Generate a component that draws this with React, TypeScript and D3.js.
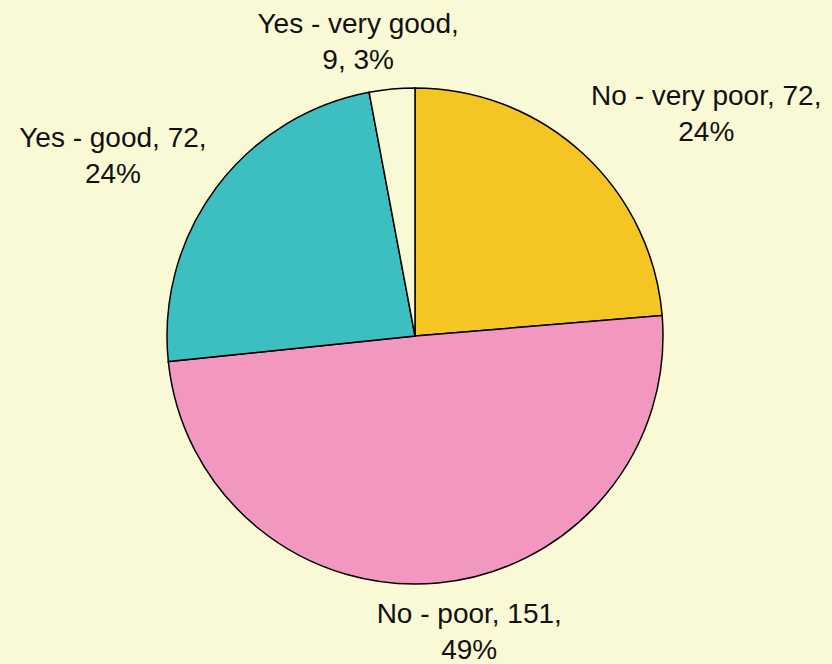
import React from 'react';
import * as d3 from 'd3';

// answers, clockwise from 12 o'clock
const categories = ['No - very poor', 'No - poor', 'Yes - good', 'Yes - very good'];
const counts = [72, 151, 72, 9];
const percents = ['24%', '49%', '24%', '3%'];
const colors = ['#F5C623', '#F298C0', '#3DBFC1', '#FAF9D6'];

const W = 832;
const H = 664;
const BG = '#FAF9D6';
const FONT = '28px "Liberation Sans", Arial, sans-serif';

function textWidth(s: string) {
  const ctx = document.createElement('canvas').getContext('2d');
  if (!ctx) return s.length * 14;
  ctx.font = FONT;
  return ctx.measureText(s).width;
}

export default function App() {
  const cx = 415;
  const cy = 336;
  const r = 248;
  const lineH = 36;

  const pie = d3.pie<number>().sort(null).value(d => d);
  const arcs = pie(counts);
  const arc = d3.arc<d3.PieArcDatum<number>>().innerRadius(0).outerRadius(r);

  // label split in two lines like the original
  const lines = categories.map((c, i) =>
    c === 'Yes - very good'
      ? [c + ',', counts[i] + ', ' + percents[i]]
      : [c + ', ' + counts[i] + ',', percents[i]]
  );

  const labels = arcs.map((a, i) => {
    const mid = (a.startAngle + a.endAngle) / 2;
    const s = Math.sin(mid);
    const c = Math.cos(mid);
    const lr = r + 12;
    const ax = s * lr;
    const ay = -c * lr;
    const w = d3.max(lines[i], textWidth) || 0;
    const h = lines[i].length * lineH;
    // push the box sideways so it clears the pie
    const k = Math.sign(s) * Math.min(1, Math.abs(s) * 3.5);
    const ky = Math.sign(c) * Math.min(1, Math.abs(c) * 1.2);
    return { x: ax + (k * w) / 2, y: ay - (ky * h) / 2, h, text: lines[i] };
  });

  return (
    <svg width={W} height={H} style={{ position: 'fixed', left: 0, top: 0 }}>
      <rect width={W} height={H} fill={BG} />
      <g transform={`translate(${cx},${cy})`}>
        {arcs.map((a, i) => (
          <path key={i} d={arc(a) || ''} fill={colors[i]} stroke="#000" strokeWidth={1.5} />
        ))}
        {labels.map((l, i) => (
          <text key={i} textAnchor="middle" style={{ font: FONT }} fill="#111">
            {l.text.map((t, j) => (
              <tspan key={j} x={l.x} y={l.y - l.h / 2 + lineH * (j + 0.5)} dy="0.35em">
                {t}
              </tspan>
            ))}
          </text>
        ))}
      </g>
    </svg>
  );
}
